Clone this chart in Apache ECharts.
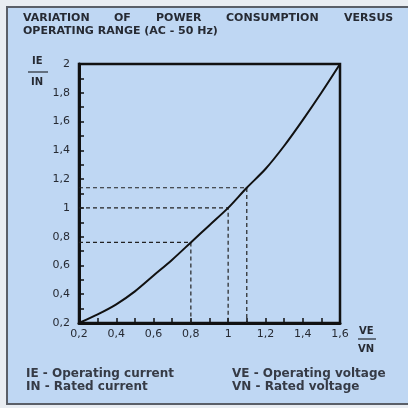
<!DOCTYPE html>
<html>
<head>
<meta charset="utf-8">
<script src="https://cdn.jsdelivr.net/npm/echarts@6/dist/echarts.min.js"></script>
<style>
  html, body { margin: 0; padding: 0; background: #e9edf2; }
  #main { width: 408px; height: 408px; }
</style>
</head>
<body>
<div id="main"></div>
<script>
// curve: VE/VN -> IE/IN
const ratioV = [0.2, 0.3, 0.4, 0.5, 0.6, 0.7, 0.8, 0.9, 1.0, 1.1, 1.2, 1.3, 1.4, 1.5, 1.6];
const ratioI = [0.2, 0.26, 0.33, 0.42, 0.53, 0.64, 0.76, 0.88, 1.0, 1.14, 1.27, 1.43, 1.61, 1.80, 2.0];

// operating points marked with dashed guides
const markV = [0.8, 1.0, 1.1];
const markI = [0.76, 1.0, 1.14];

// tick labels (comma decimals as printed)
const xTickVals = [0.2, 0.4, 0.6, 0.8, 1.0, 1.2, 1.4, 1.6];
const xTickLabels = ['0,2', '0,4', '0,6', '0,8', '1', '1,2', '1,4', '1,6'];
const yTickVals = [0.2, 0.4, 0.6, 0.8, 1.0, 1.2, 1.4, 1.6, 1.8, 2.0];
const yTickLabels = ['0,2', '0,4', '0,6', '0,8', '1', '1,2', '1,4', '1,6', '1,8', '2'];

const titleWords = ['VARIATION', 'OF', 'POWER', 'CONSUMPTION', 'VERSUS'];
const titleLine2 = 'OPERATING RANGE (AC - 50 Hz)';
const notes = ['IE - Operating current', 'IN - Rated current', 'VE - Operating voltage', 'VN - Rated voltage'];

const ink = '#262a33';
const font = "'DejaVu Sans', 'Liberation Sans', Arial, sans-serif";
const titleFont = 'bold 11px ' + font;

function pick(vals, labels) {
  return function (v) {
    let i = vals.findIndex(t => Math.abs(t - v) < 1e-6);
    return i < 0 ? '' : labels[i];
  };
}

// first title line is justified across the panel, like the print
let ctx = document.createElement('canvas').getContext('2d');
ctx.font = titleFont;
let widths = titleWords.map(w => ctx.measureText(w).width);
let lineL = 23, lineR = 393;
let gap = (lineR - lineL - widths.reduce((a, b) => a + b, 0)) / (titleWords.length - 1);

let chart = echarts.init(document.getElementById('main'));

let graphics = [
  { type: 'rect', shape: { x: 7, y: 7, width: 420, height: 397 },
    style: { fill: '#bfd7f3', stroke: '#5a5f68', lineWidth: 2 }, z: -10 }
];
let cx = lineL;
titleWords.forEach((w, i) => {
  graphics.push({ type: 'text', left: Math.round(cx), top: 13,
    style: { text: w, fill: ink, font: titleFont } });
  cx += widths[i] + gap;
});
graphics.push({ type: 'text', left: 23, top: 26,
  style: { text: titleLine2, fill: ink, font: titleFont } });

// axis names as fractions
graphics.push(
  { type: 'text', left: 32, top: 56, style: { text: 'IE', fill: ink, font: 'bold 10px ' + font } },
  { type: 'line', shape: { x1: 28, y1: 72, x2: 48, y2: 72 }, style: { stroke: ink, lineWidth: 1.2 } },
  { type: 'text', left: 31, top: 77, style: { text: 'IN', fill: ink, font: 'bold 10px ' + font } },
  { type: 'text', left: 359, top: 326, style: { text: 'VE', fill: ink, font: 'bold 10px ' + font } },
  { type: 'line', shape: { x1: 358, y1: 339, x2: 376, y2: 339 }, style: { stroke: ink, lineWidth: 1.2 } },
  { type: 'text', left: 358, top: 344, style: { text: 'VN', fill: ink, font: 'bold 10px ' + font } }
);

// legend notes at the bottom
let noteX = [26, 26, 232, 232];
let noteY = [368, 381, 368, 381];
notes.forEach((t, i) => {
  graphics.push({ type: 'text', left: noteX[i], top: noteY[i],
    style: { text: t, fill: '#363b46', font: 'bold 12px ' + font } });
});

let series = [{
  type: 'line',
  data: ratioV.map((v, i) => [v, ratioI[i]]),
  smooth: 0.3,
  showSymbol: false,
  lineStyle: { color: '#111', width: 2 },
  z: 5
}];
markV.forEach((v, i) => {
  series.push({
    type: 'line',
    data: [[0.2, markI[i]], [v, markI[i]], [v, 0.2]],
    showSymbol: false,
    lineStyle: { color: '#222', width: 1.2, type: [4, 3] },
    z: 3
  });
});

let option = {
  animation: false,
  backgroundColor: 'transparent',
  graphic: graphics,
  grid: {
    left: 79, top: 64, width: 261, height: 259,
    show: true, borderColor: '#111', borderWidth: 2.5, backgroundColor: 'transparent'
  },
  xAxis: {
    type: 'value', min: 0.2, max: 1.6, interval: 0.1,
    axisLine: { lineStyle: { color: '#111', width: 3 } },
    axisTick: { inside: true, length: 5, lineStyle: { color: '#111', width: 1.5 } },
    splitLine: { show: false },
    axisLabel: { formatter: pick(xTickVals, xTickLabels), color: ink, fontSize: 11,
      fontFamily: font, margin: 6, showMaxLabel: true, showMinLabel: true }
  },
  yAxis: {
    type: 'value', min: 0.2, max: 2, interval: 0.1,
    axisLine: { lineStyle: { color: '#111', width: 3 } },
    axisTick: { inside: true, length: 5, lineStyle: { color: '#111', width: 1.5 } },
    splitLine: { show: false },
    axisLabel: { formatter: pick(yTickVals, yTickLabels), color: ink, fontSize: 11,
      fontFamily: font, margin: 9, showMaxLabel: true, showMinLabel: true }
  },
  series: series
};

chart.setOption(option);
</script>
</body>
</html>
